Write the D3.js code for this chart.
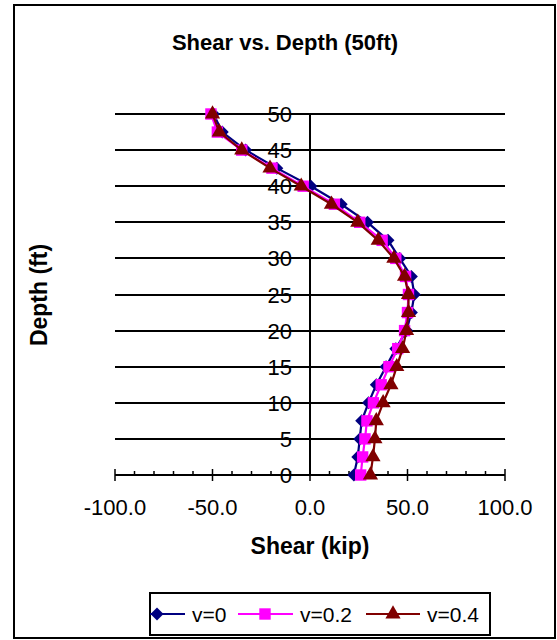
<!DOCTYPE html>
<html>
<head>
<meta charset="utf-8">
<script src="https://cdn.jsdelivr.net/npm/d3@7"></script>
<style>
  body { margin: 0; background: #fff; }
  svg text { font-family: "Liberation Sans", Arial, sans-serif; }
</style>
</head>
<body>
<div class="chart"></div>
<script>
const depths = [50, 47.5, 45, 42.5, 40, 37.5, 35, 32.5, 30, 27.5, 25, 22.5, 20, 17.5, 15, 12.5, 10, 7.5, 5, 2.5, 0];
const shearV0  = [-49.5, -45, -33, -17, 0.5, 16, 29.5, 40, 46, 52, 53.5, 52, 49.5, 44, 39, 34, 30, 26.5, 25.5, 24.5, 22.5];
const shearV02 = [-50.8, -47.5, -35, -19.5, -3.5, 12.5, 25.5, 37, 44, 49, 50.5, 50, 48.5, 45, 40.5, 36.5, 32.5, 29.2, 28.2, 27, 26];
const shearV04 = [-50, -46.5, -35, -20.5, -4.5, 11, 24.5, 35, 43, 48.5, 50.5, 50.5, 49.5, 47.5, 44.5, 41.5, 37.5, 34, 33.3, 32.3, 31];
const seriesNames = ["v=0", "v=0.2", "v=0.4"];
const xTicks = [-100, -50, 0, 50, 100];
const yTicks = [0, 5, 10, 15, 20, 25, 30, 35, 40, 45, 50];

const W = 557, H = 640;
const svg = d3.select(".chart").append("svg")
    .attr("width", W).attr("height", H);

// outer frame
svg.append("rect")
    .attr("x", 14).attr("y", 5)
    .attr("width", 541).attr("height", 633)
    .attr("fill", "#fff").attr("stroke", "#000").attr("stroke-width", 2);

const x = d3.scaleLinear().domain([-100, 100]).range([115, 505]);
const y = d3.scaleLinear().domain([0, 50]).range([475, 114]);

// gridlines
svg.append("g").selectAll("line")
    .data(yTicks.filter(d => d > 0))
    .join("line")
    .attr("x1", x(-100)).attr("x2", x(100))
    .attr("y1", d => Math.round(y(d))).attr("y2", d => Math.round(y(d)))
    .attr("stroke", "#000").attr("stroke-width", 2);

// x axis (at depth 0)
const xAxis = svg.append("g").attr("transform", `translate(0,${Math.round(y(0))})`);
xAxis.append("line")
    .attr("x1", x(-100)).attr("x2", x(100))
    .attr("stroke", "#000").attr("stroke-width", 2);
xAxis.selectAll(".tk")
    .data(d3.range(-100, 101, 10))
    .join("line")
    .attr("x1", d => x(d)).attr("x2", d => x(d))
    .attr("y1", d => d % 50 === 0 ? -6 : -4).attr("y2", d => d % 50 === 0 ? 6 : 0)
    .attr("stroke", "#000").attr("stroke-width", 1.5);
xAxis.selectAll("text")
    .data(xTicks)
    .join("text")
    .attr("x", d => x(d)).attr("y", 40)
    .attr("text-anchor", "middle")
    .attr("font-size", 22)
    .text(d => d.toFixed(1));

// y axis (at shear 0)
const yAxis = svg.append("g").attr("transform", `translate(${Math.round(x(0))},0)`);
yAxis.append("line")
    .attr("y1", y(0)).attr("y2", y(50))
    .attr("stroke", "#000").attr("stroke-width", 2);
yAxis.selectAll(".tk")
    .data(yTicks)
    .join("line")
    .attr("x1", -6).attr("x2", 6)
    .attr("y1", d => Math.round(y(d))).attr("y2", d => Math.round(y(d)))
    .attr("stroke", "#000").attr("stroke-width", 1.5);
yAxis.selectAll("text")
    .data(yTicks)
    .join("text")
    .attr("x", -18).attr("y", d => y(d) + 8)
    .attr("text-anchor", "end")
    .attr("font-size", 22)
    .text(d => d);

// series
const colors = ["#000080", "#ff00ff", "#800000"];
const symbols = [d3.symbolSquare, d3.symbolSquare, d3.symbolTriangle];
const sizes = [84, 130, 100];
const rotations = [45, 0, 0];
const allSeries = [shearV0, shearV02, shearV04];
const line = d3.line().x(d => x(d[0])).y(d => y(d[1]));

allSeries.forEach((vals, i) => {
    const pts = vals.map((v, j) => [v, depths[j]]);
    const g = svg.append("g");
    g.append("path")
        .attr("d", line(pts))
        .attr("fill", "none")
        .attr("stroke", colors[i]).attr("stroke-width", 2.2);
    g.selectAll("path.m")
        .data(pts)
        .join("path")
        .attr("class", "m")
        .attr("transform", d => `translate(${x(d[0])},${y(d[1])}) rotate(${rotations[i]})`)
        .attr("d", d3.symbol(symbols[i], sizes[i]))
        .attr("fill", colors[i]);
});

// title and axis labels
svg.append("text")
    .attr("x", 285).attr("y", 50)
    .attr("text-anchor", "middle")
    .attr("font-size", 22).attr("font-weight", "bold")
    .text("Shear vs. Depth (50ft)");
svg.append("text")
    .attr("x", 310).attr("y", 554)
    .attr("text-anchor", "middle")
    .attr("font-size", 23).attr("font-weight", "bold")
    .text("Shear (kip)");
svg.append("text")
    .attr("transform", `translate(47,295) rotate(-90)`)
    .attr("text-anchor", "middle")
    .attr("font-size", 23).attr("font-weight", "bold")
    .text("Depth (ft)");

// legend
const lg = svg.append("g");
lg.append("rect")
    .attr("x", 150).attr("y", 593)
    .attr("width", 340).attr("height", 42)
    .attr("fill", "#fff").attr("stroke", "#000").attr("stroke-width", 2);
const legX = [150, 238, 366];
const legLen = [35, 55, 54];
const legMark = [157, 265, 393];
seriesNames.forEach((name, i) => {
    const lx = legX[i], ly = 614;
    lg.append("line")
        .attr("x1", lx).attr("x2", lx + legLen[i])
        .attr("y1", ly).attr("y2", ly)
        .attr("stroke", colors[i]).attr("stroke-width", 2.2);
    lg.append("path")
        .attr("transform", `translate(${legMark[i]},${ly}) rotate(${rotations[i]})`)
        .attr("d", d3.symbol(symbols[i], sizes[i]))
        .attr("fill", colors[i]);
    lg.append("text")
        .attr("x", lx + legLen[i] + 7).attr("y", 622)
        .attr("font-size", 21)
        .text(name);
});
</script>
</body>
</html>
